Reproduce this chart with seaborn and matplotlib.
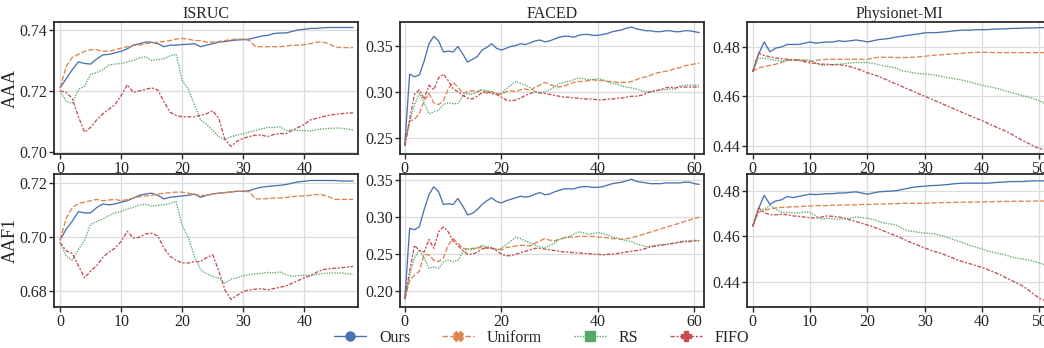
import numpy as np
import pandas as pd
import matplotlib
matplotlib.use("Agg")
import matplotlib.pyplot as plt
from matplotlib.lines import Line2D
from matplotlib.ticker import FormatStrFormatter, MultipleLocator
import seaborn as sns

methods = ["Ours", "Uniform", "RS", "FIFO"]
datasets = ["ISRUC", "FACED", "Physionet-MI"]
metrics = ["AAA", "AAF1"]

# ---------------- ISRUC ----------------
isruc_aaa_ours = [0.721, 0.724, 0.727, 0.7295, 0.729, 0.7288, 0.7305, 0.7318, 0.732, 0.7325, 0.733, 0.7338, 0.735, 0.7355, 0.736, 0.736, 0.7355, 0.7345, 0.735, 0.735, 0.7352, 0.7353, 0.7355, 0.7345, 0.735, 0.7355, 0.736, 0.7362, 0.7365, 0.7367, 0.7368, 0.737, 0.7375, 0.738, 0.7382, 0.7388, 0.739, 0.739, 0.7395, 0.74, 0.7402, 0.7405, 0.7405, 0.7407, 0.7408, 0.7408, 0.7408, 0.7408, 0.7408]
isruc_aaa_uniform = [0.721, 0.728, 0.731, 0.732, 0.733, 0.7335, 0.7335, 0.733, 0.733, 0.7335, 0.734, 0.7345, 0.735, 0.735, 0.7355, 0.7357, 0.736, 0.7362, 0.7365, 0.737, 0.7372, 0.737, 0.7365, 0.7365, 0.736, 0.736, 0.7362, 0.7365, 0.7368, 0.737, 0.737, 0.7365, 0.7345, 0.7345, 0.7345, 0.7345, 0.7345, 0.7347, 0.735, 0.735, 0.7352, 0.7355, 0.736, 0.736, 0.7355, 0.7345, 0.7342, 0.7342, 0.7342]
isruc_aaa_rs = [0.720, 0.7165, 0.716, 0.7205, 0.7215, 0.7255, 0.726, 0.727, 0.7285, 0.7288, 0.729, 0.7295, 0.730, 0.7308, 0.7312, 0.730, 0.7303, 0.7305, 0.7315, 0.732, 0.7235, 0.7205, 0.7155, 0.7105, 0.709, 0.707, 0.705, 0.704, 0.705, 0.7055, 0.706, 0.7065, 0.707, 0.7075, 0.708, 0.708, 0.7083, 0.707, 0.7072, 0.707, 0.707, 0.7068, 0.7073, 0.7075, 0.7077, 0.7078, 0.7078, 0.7075, 0.7072]
isruc_aaa_fifo = [0.720, 0.7195, 0.7175, 0.7115, 0.7065, 0.708, 0.7105, 0.7125, 0.714, 0.7155, 0.7185, 0.722, 0.7195, 0.720, 0.7205, 0.721, 0.7203, 0.7165, 0.713, 0.712, 0.7115, 0.7115, 0.7115, 0.712, 0.7125, 0.7135, 0.711, 0.704, 0.7018, 0.7035, 0.7045, 0.705, 0.7055, 0.7055, 0.705, 0.7057, 0.706, 0.706, 0.707, 0.708, 0.709, 0.7105, 0.711, 0.7115, 0.712, 0.7123, 0.7125, 0.7127, 0.7128]

isruc_aaf1_ours = [0.699, 0.703, 0.706, 0.7095, 0.709, 0.709, 0.711, 0.7123, 0.712, 0.7123, 0.713, 0.7135, 0.7145, 0.7155, 0.716, 0.7163, 0.7155, 0.7142, 0.7148, 0.715, 0.7153, 0.7155, 0.716, 0.7148, 0.7155, 0.716, 0.7163, 0.7165, 0.7168, 0.717, 0.717, 0.7172, 0.718, 0.7185, 0.7188, 0.719, 0.7192, 0.7195, 0.72, 0.7205, 0.7207, 0.721, 0.721, 0.721, 0.721, 0.721, 0.7208, 0.7208, 0.7208]
isruc_aaf1_uniform = [0.699, 0.707, 0.711, 0.7125, 0.713, 0.7135, 0.714, 0.7135, 0.7138, 0.714, 0.7135, 0.714, 0.7145, 0.715, 0.7153, 0.7155, 0.716, 0.7163, 0.7165, 0.7167, 0.7167, 0.7163, 0.7158, 0.7155, 0.7155, 0.716, 0.7163, 0.7165, 0.7168, 0.717, 0.717, 0.7168, 0.7142, 0.7142, 0.7143, 0.7145, 0.7145, 0.7147, 0.715, 0.7152, 0.7153, 0.7155, 0.7158, 0.7157, 0.715, 0.714, 0.714, 0.714, 0.714]
isruc_aaf1_rs = [0.698, 0.693, 0.6915, 0.6955, 0.699, 0.7048, 0.7058, 0.7068, 0.708, 0.709, 0.7095, 0.7105, 0.711, 0.712, 0.7122, 0.7115, 0.7118, 0.712, 0.7125, 0.7133, 0.7043, 0.700, 0.693, 0.688, 0.6865, 0.6855, 0.6848, 0.683, 0.6845, 0.685, 0.6858, 0.6862, 0.6865, 0.6866, 0.687, 0.6868, 0.6872, 0.6862, 0.6855, 0.6858, 0.686, 0.6858, 0.6862, 0.6865, 0.6868, 0.6868, 0.6868, 0.6865, 0.6862]
isruc_aaf1_fifo = [0.698, 0.695, 0.694, 0.6895, 0.685, 0.6875, 0.6895, 0.6925, 0.6945, 0.696, 0.6985, 0.7022, 0.6997, 0.700, 0.7012, 0.7015, 0.7005, 0.696, 0.693, 0.6915, 0.6905, 0.6905, 0.691, 0.691, 0.6925, 0.6935, 0.6875, 0.6805, 0.677, 0.6785, 0.680, 0.6805, 0.6808, 0.681, 0.6805, 0.681, 0.6815, 0.682, 0.683, 0.684, 0.685, 0.6858, 0.687, 0.688, 0.6883, 0.6885, 0.6887, 0.689, 0.6892]

# ---------------- FACED ----------------
faced_aaa_ours = [0.243, 0.319, 0.316, 0.318, 0.333, 0.352, 0.360, 0.355, 0.343, 0.344, 0.343, 0.349, 0.341, 0.332, 0.335, 0.338, 0.345, 0.348, 0.352, 0.347, 0.345, 0.347, 0.349, 0.350, 0.352, 0.351, 0.353, 0.355, 0.356, 0.354, 0.355, 0.357, 0.359, 0.360, 0.360, 0.359, 0.361, 0.362, 0.362, 0.361, 0.361, 0.362, 0.363, 0.365, 0.366, 0.367, 0.369, 0.370, 0.368, 0.367, 0.366, 0.366, 0.365, 0.365, 0.366, 0.366, 0.365, 0.365, 0.366, 0.366, 0.365, 0.364]
faced_aaa_uniform = [0.243, 0.268, 0.270, 0.276, 0.290, 0.298, 0.288, 0.286, 0.290, 0.303, 0.310, 0.305, 0.298, 0.300, 0.301, 0.300, 0.302, 0.298, 0.300, 0.298, 0.297, 0.300, 0.301, 0.300, 0.302, 0.303, 0.301, 0.305, 0.307, 0.310, 0.308, 0.306, 0.305, 0.306, 0.308, 0.310, 0.311, 0.311, 0.312, 0.313, 0.312, 0.312, 0.311, 0.311, 0.310, 0.310, 0.310, 0.311, 0.313, 0.315, 0.316, 0.318, 0.320, 0.321, 0.322, 0.323, 0.325, 0.326, 0.328, 0.329, 0.330, 0.331]
faced_aaa_rs = [0.242, 0.268, 0.285, 0.298, 0.288, 0.276, 0.278, 0.280, 0.286, 0.288, 0.287, 0.287, 0.295, 0.298, 0.297, 0.300, 0.302, 0.301, 0.300, 0.297, 0.298, 0.303, 0.307, 0.311, 0.309, 0.307, 0.304, 0.300, 0.298, 0.300, 0.302, 0.305, 0.309, 0.310, 0.311, 0.313, 0.315, 0.314, 0.313, 0.313, 0.314, 0.313, 0.311, 0.309, 0.308, 0.306, 0.305, 0.304, 0.303, 0.301, 0.300, 0.300, 0.301, 0.302, 0.302, 0.303, 0.303, 0.306, 0.307, 0.307, 0.307, 0.307]
faced_aaa_fifo = [0.241, 0.270, 0.297, 0.302, 0.292, 0.307, 0.302, 0.315, 0.319, 0.312, 0.303, 0.300, 0.296, 0.293, 0.292, 0.295, 0.299, 0.300, 0.298, 0.297, 0.294, 0.291, 0.290, 0.291, 0.293, 0.296, 0.298, 0.300, 0.299, 0.298, 0.297, 0.296, 0.295, 0.294, 0.294, 0.293, 0.293, 0.292, 0.292, 0.292, 0.291, 0.291, 0.292, 0.292, 0.293, 0.293, 0.294, 0.295, 0.295, 0.296, 0.298, 0.300, 0.301, 0.302, 0.304, 0.305, 0.304, 0.305, 0.305, 0.305, 0.305, 0.305]

faced_aaf1_ours = [0.190, 0.285, 0.283, 0.287, 0.310, 0.330, 0.341, 0.334, 0.317, 0.318, 0.317, 0.325, 0.315, 0.303, 0.305, 0.310, 0.317, 0.322, 0.326, 0.321, 0.319, 0.322, 0.324, 0.326, 0.328, 0.327, 0.328, 0.331, 0.333, 0.330, 0.331, 0.334, 0.336, 0.338, 0.338, 0.338, 0.340, 0.341, 0.341, 0.340, 0.340, 0.341, 0.343, 0.345, 0.346, 0.347, 0.349, 0.351, 0.348, 0.347, 0.346, 0.345, 0.345, 0.345, 0.346, 0.346, 0.346, 0.346, 0.347, 0.347, 0.345, 0.344]
faced_aaf1_uniform = [0.190, 0.215, 0.222, 0.227, 0.250, 0.249, 0.242, 0.240, 0.245, 0.262, 0.271, 0.265, 0.258, 0.257, 0.258, 0.258, 0.260, 0.258, 0.258, 0.257, 0.256, 0.259, 0.260, 0.261, 0.262, 0.262, 0.261, 0.265, 0.268, 0.271, 0.269, 0.268, 0.270, 0.272, 0.273, 0.273, 0.274, 0.274, 0.274, 0.274, 0.273, 0.273, 0.272, 0.271, 0.271, 0.270, 0.271, 0.272, 0.274, 0.276, 0.278, 0.280, 0.282, 0.284, 0.286, 0.288, 0.290, 0.292, 0.294, 0.296, 0.298, 0.300]
faced_aaf1_rs = [0.190, 0.222, 0.245, 0.256, 0.245, 0.231, 0.233, 0.231, 0.240, 0.242, 0.240, 0.242, 0.253, 0.257, 0.256, 0.259, 0.262, 0.260, 0.259, 0.256, 0.258, 0.263, 0.268, 0.273, 0.271, 0.268, 0.265, 0.262, 0.260, 0.259, 0.262, 0.265, 0.270, 0.272, 0.274, 0.277, 0.280, 0.279, 0.277, 0.278, 0.279, 0.278, 0.276, 0.273, 0.272, 0.270, 0.268, 0.267, 0.264, 0.262, 0.260, 0.261, 0.262, 0.263, 0.263, 0.264, 0.265, 0.267, 0.268, 0.268, 0.269, 0.268]
faced_aaf1_fifo = [0.190, 0.227, 0.262, 0.255, 0.253, 0.270, 0.258, 0.280, 0.287, 0.280, 0.268, 0.262, 0.255, 0.250, 0.250, 0.253, 0.257, 0.259, 0.258, 0.255, 0.250, 0.248, 0.248, 0.250, 0.252, 0.254, 0.256, 0.258, 0.258, 0.257, 0.256, 0.255, 0.254, 0.253, 0.253, 0.252, 0.252, 0.251, 0.251, 0.250, 0.250, 0.249, 0.250, 0.250, 0.251, 0.252, 0.253, 0.254, 0.255, 0.256, 0.258, 0.260, 0.261, 0.262, 0.263, 0.264, 0.265, 0.266, 0.267, 0.267, 0.268, 0.268]

# ---------------- Physionet-MI ----------------
phys_aaa_ours = [0.470, 0.477, 0.482, 0.478, 0.4795, 0.480, 0.481, 0.481, 0.481, 0.4815, 0.482, 0.4815, 0.4818, 0.482, 0.482, 0.4825, 0.4822, 0.4825, 0.4828, 0.4825, 0.482, 0.4825, 0.483, 0.4832, 0.4835, 0.484, 0.4843, 0.4847, 0.485, 0.4853, 0.4857, 0.4858, 0.4858, 0.486, 0.4862, 0.4865, 0.4867, 0.4868, 0.4868, 0.487, 0.487, 0.487, 0.4872, 0.4873, 0.4873, 0.4875, 0.4875, 0.4876, 0.4877, 0.4877, 0.4878, 0.4878]
phys_aaa_uniform = [0.470, 0.4715, 0.472, 0.4725, 0.473, 0.4738, 0.4745, 0.4748, 0.4748, 0.4745, 0.4742, 0.4745, 0.4748, 0.475, 0.475, 0.475, 0.475, 0.475, 0.475, 0.475, 0.475, 0.4755, 0.4758, 0.4758, 0.4758, 0.4757, 0.4757, 0.4757, 0.4758, 0.476, 0.4762, 0.4765, 0.4767, 0.4768, 0.477, 0.4772, 0.4773, 0.4775, 0.4777, 0.4778, 0.4778, 0.4778, 0.4777, 0.4777, 0.4777, 0.4777, 0.4777, 0.4777, 0.4777, 0.4777, 0.4777, 0.4777]
phys_aaa_rs = [0.470, 0.4755, 0.4755, 0.475, 0.4745, 0.4742, 0.4745, 0.4748, 0.4748, 0.4747, 0.4745, 0.4735, 0.4725, 0.4727, 0.4728, 0.4730, 0.4732, 0.4735, 0.4737, 0.4737, 0.4737, 0.4733, 0.4728, 0.4722, 0.4720, 0.4715, 0.4703, 0.470, 0.4695, 0.4692, 0.469, 0.4688, 0.4685, 0.468, 0.4675, 0.4672, 0.4668, 0.4663, 0.4657, 0.465, 0.4645, 0.464, 0.4635, 0.463, 0.4622, 0.4615, 0.461, 0.4603, 0.4597, 0.459, 0.4582, 0.457]
phys_aaa_fifo = [0.470, 0.4775, 0.4765, 0.476, 0.4755, 0.4752, 0.475, 0.4748, 0.4745, 0.474, 0.4735, 0.4733, 0.473, 0.473, 0.4728, 0.4728, 0.4725, 0.472, 0.4713, 0.4705, 0.4695, 0.4688, 0.468, 0.467, 0.466, 0.465, 0.464, 0.463, 0.462, 0.461, 0.460, 0.459, 0.458, 0.457, 0.456, 0.455, 0.454, 0.453, 0.452, 0.451, 0.4502, 0.449, 0.448, 0.447, 0.446, 0.4448, 0.4435, 0.4422, 0.441, 0.4398, 0.4388, 0.4385]

phys_aaf1_ours = [0.4645, 0.472, 0.478, 0.474, 0.4755, 0.476, 0.4775, 0.477, 0.4775, 0.478, 0.4785, 0.4783, 0.4785, 0.4787, 0.4787, 0.479, 0.479, 0.4793, 0.4795, 0.479, 0.4785, 0.479, 0.4795, 0.4797, 0.4798, 0.480, 0.4805, 0.481, 0.4815, 0.4818, 0.482, 0.4822, 0.4823, 0.4825, 0.4827, 0.483, 0.4832, 0.4833, 0.4833, 0.4833, 0.4833, 0.4833, 0.4835, 0.4837, 0.4838, 0.484, 0.484, 0.484, 0.4842, 0.4843, 0.4843, 0.4843]
phys_aaf1_uniform = [0.4645, 0.4705, 0.4715, 0.472, 0.4725, 0.4727, 0.4728, 0.473, 0.473, 0.4732, 0.4733, 0.4735, 0.4735, 0.4735, 0.4737, 0.4737, 0.4738, 0.4738, 0.4738, 0.474, 0.474, 0.474, 0.4742, 0.4742, 0.4743, 0.4743, 0.4745, 0.4745, 0.4745, 0.4745, 0.4745, 0.4746, 0.4747, 0.4748, 0.4748, 0.4749, 0.475, 0.475, 0.475, 0.4751, 0.4751, 0.4752, 0.4752, 0.4753, 0.4753, 0.4753, 0.4754, 0.4754, 0.4754, 0.4755, 0.4755, 0.4755]
phys_aaf1_rs = [0.4645, 0.4715, 0.472, 0.4735, 0.472, 0.4705, 0.4705, 0.4703, 0.4703, 0.4707, 0.4705, 0.469, 0.4675, 0.468, 0.4677, 0.4675, 0.4677, 0.468, 0.4685, 0.4683, 0.468, 0.4675, 0.4665, 0.4658, 0.4655, 0.465, 0.4637, 0.4625, 0.4622, 0.4618, 0.4615, 0.4613, 0.461, 0.4603, 0.4595, 0.4587, 0.4578, 0.457, 0.456, 0.4553, 0.4545, 0.4537, 0.453, 0.4525, 0.452, 0.4512, 0.4505, 0.4502, 0.4498, 0.4492, 0.4485, 0.4475]
phys_aaf1_fifo = [0.4645, 0.4725, 0.4705, 0.4695, 0.4695, 0.4697, 0.4695, 0.469, 0.4688, 0.4685, 0.4682, 0.468, 0.4685, 0.469, 0.4688, 0.4685, 0.468, 0.4672, 0.4665, 0.4658, 0.465, 0.4642, 0.4633, 0.4623, 0.4612, 0.4603, 0.4592, 0.458, 0.457, 0.456, 0.455, 0.454, 0.4532, 0.4525, 0.4515, 0.4505, 0.4495, 0.4487, 0.448, 0.4472, 0.4465, 0.4455, 0.4445, 0.4435, 0.4422, 0.441, 0.4397, 0.4385, 0.4368, 0.4348, 0.433, 0.432]

series = {
    ("ISRUC", "AAA"): [isruc_aaa_ours, isruc_aaa_uniform, isruc_aaa_rs, isruc_aaa_fifo],
    ("ISRUC", "AAF1"): [isruc_aaf1_ours, isruc_aaf1_uniform, isruc_aaf1_rs, isruc_aaf1_fifo],
    ("FACED", "AAA"): [faced_aaa_ours, faced_aaa_uniform, faced_aaa_rs, faced_aaa_fifo],
    ("FACED", "AAF1"): [faced_aaf1_ours, faced_aaf1_uniform, faced_aaf1_rs, faced_aaf1_fifo],
    ("Physionet-MI", "AAA"): [phys_aaa_ours, phys_aaa_uniform, phys_aaa_rs, phys_aaa_fifo],
    ("Physionet-MI", "AAF1"): [phys_aaf1_ours, phys_aaf1_uniform, phys_aaf1_rs, phys_aaf1_fifo],
}

rows = []
for (ds, met), lists in series.items():
    for m, vals in zip(methods, lists):
        for i, v in enumerate(vals):
            rows.append({"dataset": ds, "metric": met, "method": m, "step": i, "value": v})
df = pd.DataFrame(rows)

sns.set_theme(style="whitegrid")
plt.rcParams["font.family"] = ["Liberation Serif", "DejaVu Serif"]

palette = dict(zip(methods, sns.color_palette("deep", 4)))
dashes = {"Ours": "", "Uniform": (4, 1.5), "RS": (1, 1), "FIFO": (3, 1.25, 1.5, 1.25)}
markers = {"Ours": "o", "Uniform": "X", "RS": "s", "FIFO": "P"}

W, H = 1044, 348
fig = plt.figure(figsize=(W / 100, H / 100), dpi=100)

col_px = [(54, 358), (400, 704), (747, 1052)]
row_px = [(22, 154), (174, 307)]
xlims = {"ISRUC": (-1, 48.8), "FACED": (-1, 62), "Physionet-MI": (-1, 52.2)}
xstep = {"ISRUC": 10, "FACED": 20, "Physionet-MI": 10}
ylims = {
    ("ISRUC", "AAA"): (0.6993, 0.7426),
    ("ISRUC", "AAF1"): (0.6742, 0.7234),
    ("FACED", "AAA"): (0.2324, 0.3755),
    ("FACED", "AAF1"): (0.179, 0.358),
    ("Physionet-MI", "AAA"): (0.4366, 0.4901),
    ("Physionet-MI", "AAF1"): (0.4292, 0.4873),
}
ystep = {
    ("ISRUC", "AAA"): 0.02, ("ISRUC", "AAF1"): 0.02,
    ("FACED", "AAA"): 0.05, ("FACED", "AAF1"): 0.05,
    ("Physionet-MI", "AAA"): 0.02, ("Physionet-MI", "AAF1"): 0.02,
}

for r, met in enumerate(metrics):
    for c, ds in enumerate(datasets):
        x0, x1 = col_px[c]
        y0, y1 = row_px[r]
        ax = fig.add_axes([x0 / W, 1 - y1 / H, (x1 - x0) / W, (y1 - y0) / H])
        sub = df[(df.dataset == ds) & (df.metric == met)]
        sns.lineplot(data=sub, x="step", y="value", hue="method", style="method",
                     hue_order=methods, style_order=methods, palette=palette,
                     dashes=dashes, linewidth=0.95, legend=False, ax=ax)
        ax.set_xlim(*xlims[ds])
        ax.set_ylim(*ylims[(ds, met)])
        ax.xaxis.set_major_locator(MultipleLocator(xstep[ds]))
        ax.yaxis.set_major_locator(MultipleLocator(ystep[(ds, met)]))
        ax.yaxis.set_major_formatter(FormatStrFormatter("%.2f"))
        ax.set_xlabel("")
        if c == 0:
            ax.set_ylabel(met, fontsize=13)
            ax.yaxis.set_label_coords(-0.117, 0.5)
        else:
            ax.set_ylabel("")
        if r == 0:
            ax.set_title(ds, fontsize=11.5, pad=3)
        ax.grid(True, color="#dcdcdc", linewidth=0.9)
        for s in ax.spines.values():
            s.set_color("#2b2b2b")
            s.set_linewidth(1.3)
        ax.tick_params(axis="both", which="major", labelsize=11.5, length=3.5,
                       width=1.0, color="#2b2b2b", bottom=True, left=True, pad=1.5)

handles = []
for m in methods:
    h = Line2D([0], [0], color=palette[m], lw=1.0, marker=markers[m], markersize=6.5)
    if dashes[m]:
        h.set_dashes(dashes[m])
    handles.append(h)
fig.legend(handles, methods, loc="center", bbox_to_anchor=(0.519, 0.029), ncol=4,
           frameon=False, fontsize=11.5, handlelength=2.0, columnspacing=2.0,
           handletextpad=0.8)

fig.savefig("out.png", dpi=100)
